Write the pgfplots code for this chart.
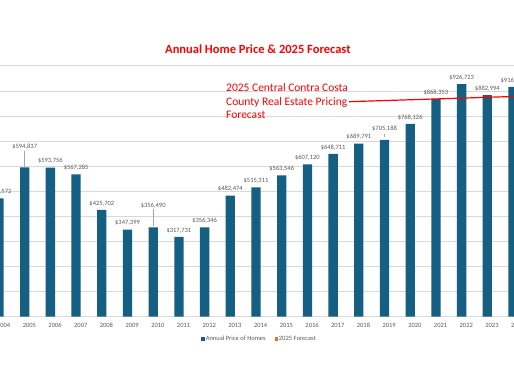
\documentclass[border=0pt]{standalone}
\usepackage{pgfplots}
\pgfplotsset{compat=1.18}
\usepackage{pgfplotstable}
\usepackage{fontspec}
\setmainfont{Carlito}
\definecolor{barblue}{HTML}{156082}
\definecolor{fcorange}{HTML}{E97132}
\definecolor{txtgray}{HTML}{595959}
\definecolor{gridgray}{HTML}{D9D9D9}
\definecolor{leadgray}{HTML}{A6A6A6}
\definecolor{annred}{HTML}{FF0000}

% all annual values (bars)
\pgfplotstableread{
year value
2004 471572
2005 594837
2006 593756
2007 567285
2008 425702
2009 347399
2010 356490
2011 317731
2012 356346
2013 482474
2014 515311
2015 563546
2016 607120
2017 648711
2018 689791
2019 705188
2020 768126
2021 868353
2022 926723
2023 882994
2024 916500
}\homes

% labels placed directly above their bars
\pgfplotstableread{
year value
2004 471572
2006 593756
2007 567285
2008 425702
2009 347399
2011 317731
2012 356346
2013 482474
2014 515311
2015 563546
2016 607120
2017 648711
2018 689791
2020 768126
2021 868353
2022 926723
2023 882994
2024 916500
}\lblnear

\pgfplotsset{
  lbl/.style={draw=none, mark=none, forget plot,
    nodes near coords={\$\pgfmathprintnumber[fixed,precision=0,1000 sep={,}]{\pgfplotspointmeta}},
    every node near coord/.style={font=\fontsize{6.5}{7}\selectfont, text=txtgray, anchor=south, inner sep=0pt, xshift=-4.65pt, yshift=#1}},
}

\begin{document}
\begin{tikzpicture}
\useasboundingbox (0pt,0pt) rectangle (514pt,386pt);
\clip (0pt,0pt) rectangle (514pt,386pt);
\begin{axis}[
  at={(-40pt,69.3pt)}, anchor=south west,
  scale only axis, width=600pt, height=250.9pt,
  xmin=2002.3016, xmax=2025.6479, ymin=0, ymax=1000000,
  axis line style={draw=none},
  ymajorgrids, grid style={gridgray, line width=0.75pt},
  ytick={0,100000,200000,300000,400000,500000,600000,700000,800000,900000,1000000},
  yticklabels={},
  xtick={2004,2005,2006,2007,2008,2009,2010,2011,2012,2013,2014,2015,2016,2017,2018,2019,2020,2021,2022,2023,2024,2025},
  xticklabels={2004,2005,2006,2007,2008,2009,2010,2011,2012,2013,2014,2015,2016,2017,2018,2019,2020,2021,2022,2023,2024,2025},
  major tick length=0pt,
  xticklabel style={font=\fontsize{6.5}{7}\selectfont, text=txtgray, anchor=north, inner sep=0pt, yshift=-6.2pt},
  clip=false,
  legend columns=2,
  legend style={at={(0.4983,-0.0889)}, anchor=center, draw=none, fill=none,
    font=\fontsize{6.5}{7}\selectfont, text=txtgray, inner sep=0pt,
    nodes={inner sep=0.8pt},
    /tikz/every even column/.append style={column sep=8pt}},
  legend image code/.code={\fill[#1] (0pt,-1.8pt) rectangle (3.6pt,1.8pt);},
  /pgf/number format/assume math mode=true,
]
\addplot[ybar, bar width=9.3pt, bar shift=-4.65pt, fill=barblue, draw=none] table[x=year,y=value]{\homes};
\addlegendentry{Annual Price of Homes}
\addplot[ybar, bar width=9.3pt, bar shift=4.65pt, fill=fcorange, draw=none] coordinates {(2025,950000)};
\addlegendentry{2025 Forecast}
\addplot[lbl=3.7pt] table[x=year,y=value]{\lblnear};
\addplot[lbl=18.1pt] coordinates {(2005,594837)};
\addplot[lbl=18.8pt] coordinates {(2010,356490)};
\addplot[lbl=7.8pt] coordinates {(2019,705188)};
\draw[leadgray, line width=0.5pt] ([xshift=-4.65pt, yshift=0.5pt]axis cs:2005,594837) -- ([xshift=-4.65pt, yshift=16.5pt]axis cs:2005,594837);
\draw[leadgray, line width=0.5pt] ([xshift=-4.65pt, yshift=1pt]axis cs:2010,356490) -- ([xshift=-4.65pt, yshift=18pt]axis cs:2010,356490);
\draw[leadgray, line width=0.5pt] ([xshift=-4.65pt, yshift=3pt]axis cs:2019,705188) -- ([xshift=-4.65pt, yshift=6pt]axis cs:2019,705188);
\end{axis}
\node[anchor=base, text=annred, font=\bfseries\fontsize{12.5}{14}\selectfont, inner sep=0pt] at (257.9pt,332.7pt) {Annual Home Price \& 2025 Forecast};
\node[anchor=base west, text=annred, font=\fontsize{11.5}{13}\selectfont, inner sep=0pt] at (226pt,294.3pt) {2025 Central Contra Costa};
\node[anchor=base west, text=annred, font=\fontsize{11.5}{13}\selectfont, inner sep=0pt] at (226pt,280.3pt) {County Real Estate Pricing};
\node[anchor=base west, text=annred, font=\fontsize{11.5}{13}\selectfont, inner sep=0pt] at (226pt,267.3pt) {Forecast};
\draw[annred, line width=1.2pt] (349pt,284.3pt) -- (560pt,291pt);
\end{tikzpicture}
\end{document}
